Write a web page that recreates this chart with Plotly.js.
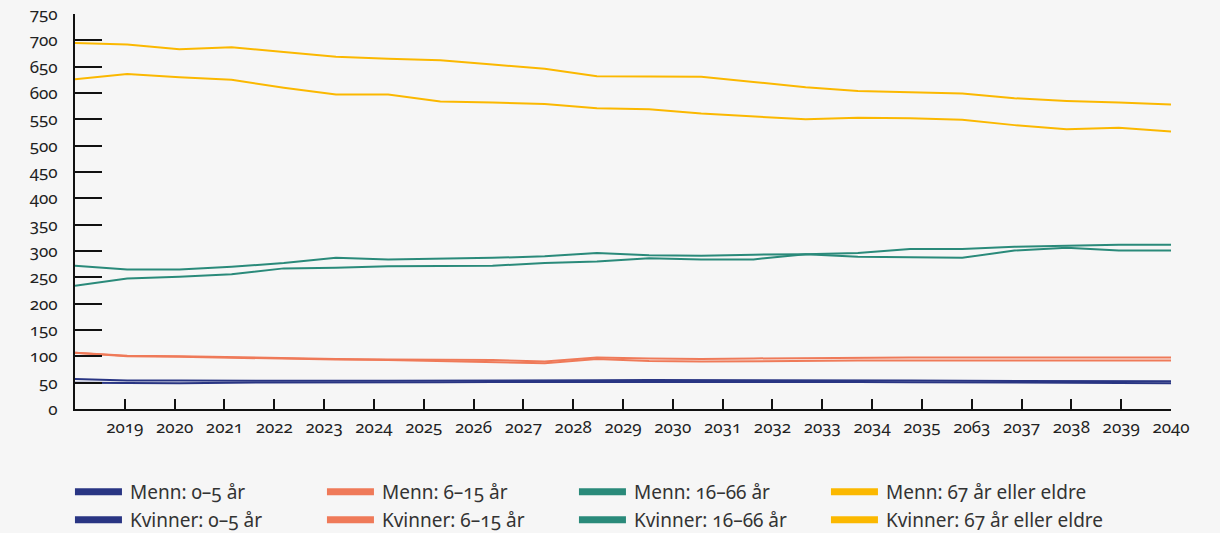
<!DOCTYPE html>
<html><head><meta charset="utf-8">
<script src="https://cdn.plot.ly/plotly-3.0.1.min.js"></script>
<style>
html,body{margin:0;padding:0;background:#f6f6f6;}
#chart{width:1220px;height:533px;}
.main-svg text{font-feature-settings:"onum" 1; font-variant-numeric: oldstyle-nums;}
</style></head><body><div id="chart"></div>
<script>
// Tick labels as printed on the original (including its "2063")
const tickLabels = ['2019','2020','2021','2022','2023','2024','2025','2026','2027','2028','2029','2030',
  '2031','2032','2033','2034','2035','2063','2037','2038','2039','2040'];
const yTicks = [0,50,100,150,200,250,300,350,400,450,500,550,600,650,700,750];

const seriesNames = {
  m05: 'Menn: 0–5 år', m615: 'Menn: 6–15 år', m1666: 'Menn: 16–66 år', m67: 'Menn: 67 år eller eldre',
  k05: 'Kvinner: 0–5 år', k615: 'Kvinner: 6–15 år', k1666: 'Kvinner: 16–66 år', k67: 'Kvinner: 67 år eller eldre'
};

// Values (one per period, 22 periods)
const menn05     = [57,54,54,53.5,53.5,53.5,53.5,53.5,54,54,54.5,55,55,55,55,54.5,54,53.5,53.5,53.5,53,52.5];
const kvinner05  = [50,49,49,50,50,50.5,51,51,51.5,51.5,52,52.5,52.5,52.5,52,51.5,51,50.5,50,50,49.5,49];
const menn615    = [107,101,100,98,96,95,94,93,93,90,98,96,95,96,97,97.5,98,98,98,98,98,98];
const kvinner615 = [107,100,99,97,95,94,93,91,90,87,95,91,90,91,92,92,92,92,92,92,92,92];
const menn1666   = [272,265,265,270,277,287,284,285,287,290,296,292,291,293,294,289,288,287,301,306,301,301];
const kvinner1666= [234,248,251,256,267,268,271,271,272,277,280,286,284,284,294,296,304,304,308,310,312,312];
const menn67     = [626,636,630,625,610,597,597,584,582,579,571,569,561,556,550,553,552,549,539,531,534,527];
const kvinner67  = [695,692,683,687,678,669,665,662,654,646,632,631,631,621,611,604,602,599,590,585,582,578];

const colors = {blue:'#293583', orange:'#ef7a59', green:'#2a8a7a', yellow:'#fbb800'};

const n = menn05.length;
const xIdx = menn05.map((_, i) => i);
// ticks in the original are spaced one position more than the data points
const tickPos = tickLabels.map((_, k) => (k + 1) * (n - 1) / tickLabels.length);

const defs = [
  {y: menn05, name: seriesNames.m05, c: colors.blue, leg: 'legend', w: 187},
  {y: menn615, name: seriesNames.m615, c: colors.orange, leg: 'legend', w: 187},
  {y: menn1666, name: seriesNames.m1666, c: colors.green, leg: 'legend', w: 187},
  {y: menn67, name: seriesNames.m67, c: colors.yellow, leg: 'legend', w: 250},
  {y: kvinner05, name: seriesNames.k05, c: colors.blue, leg: 'legend2', w: 187},
  {y: kvinner615, name: seriesNames.k615, c: colors.orange, leg: 'legend2', w: 187},
  {y: kvinner1666, name: seriesNames.k1666, c: colors.green, leg: 'legend2', w: 187},
  {y: kvinner67, name: seriesNames.k67, c: colors.yellow, leg: 'legend2', w: 250}
];

const traces = [];
defs.forEach(d => {
  traces.push({x: xIdx, y: d.y, type: 'scatter', mode: 'lines', name: d.name,
    line: {color: d.c, width: 2}, showlegend: false, hoverinfo: 'skip'});
});
defs.forEach(d => {
  traces.push({x: [null], y: [null], type: 'scatter', mode: 'lines', name: d.name,
    line: {color: d.c, width: 7}, showlegend: true, legend: d.leg, legendwidth: d.w});
});

const legendCommon = {orientation: 'h', xanchor: 'left', yanchor: 'middle', x: -0.0046,
  entrywidthmode: 'pixels', itemwidth: 50, bgcolor: 'rgba(0,0,0,0)',
  font: {family: '"Noto Sans", sans-serif', size: 19, color: '#333'}};

const layout = {
  width: 1220, height: 533,
  paper_bgcolor: '#f6f6f6', plot_bgcolor: '#f6f6f6',
  margin: {l: 75, r: 49, t: 14, b: 124, autoexpand: false},
  font: {family: '"Noto Sans", sans-serif', color: '#222'},
  xaxis: {range: [0, n - 1], tickmode: 'array', tickvals: tickPos, ticktext: tickLabels,
    showgrid: false, zeroline: false, showline: true, linecolor: '#111', linewidth: 2,
    ticks: 'inside', ticklen: 10, tickwidth: 2, tickcolor: '#111',
    tickfont: {size: 17, color: '#222'}, ticklabelstandoff: 2, fixedrange: true},
  yaxis: {range: [0, 750], tickmode: 'array', tickvals: yTicks, ticktext: yTicks.map(String),
    showgrid: false, zeroline: false, showline: true, linecolor: '#111', linewidth: 2,
    ticks: 'inside', ticklen: 27, tickwidth: 2, tickcolor: '#111',
    tickfont: {size: 17, color: '#222'}, ticklabelstandoff: 12, fixedrange: true},
  legend: Object.assign({}, legendCommon, {y: -0.2101}),
  legend2: Object.assign({}, legendCommon, {y: -0.2810}),
  showlegend: true
};

Plotly.newPlot('chart', traces, layout, {displayModeBar: false, staticPlot: true}).then(gd => {
  // lengthen the legend swatches to the original's 47 px
  gd.querySelectorAll('.legendlines path').forEach(p => p.setAttribute('d', 'M5,0h47'));
});
</script></body></html>
